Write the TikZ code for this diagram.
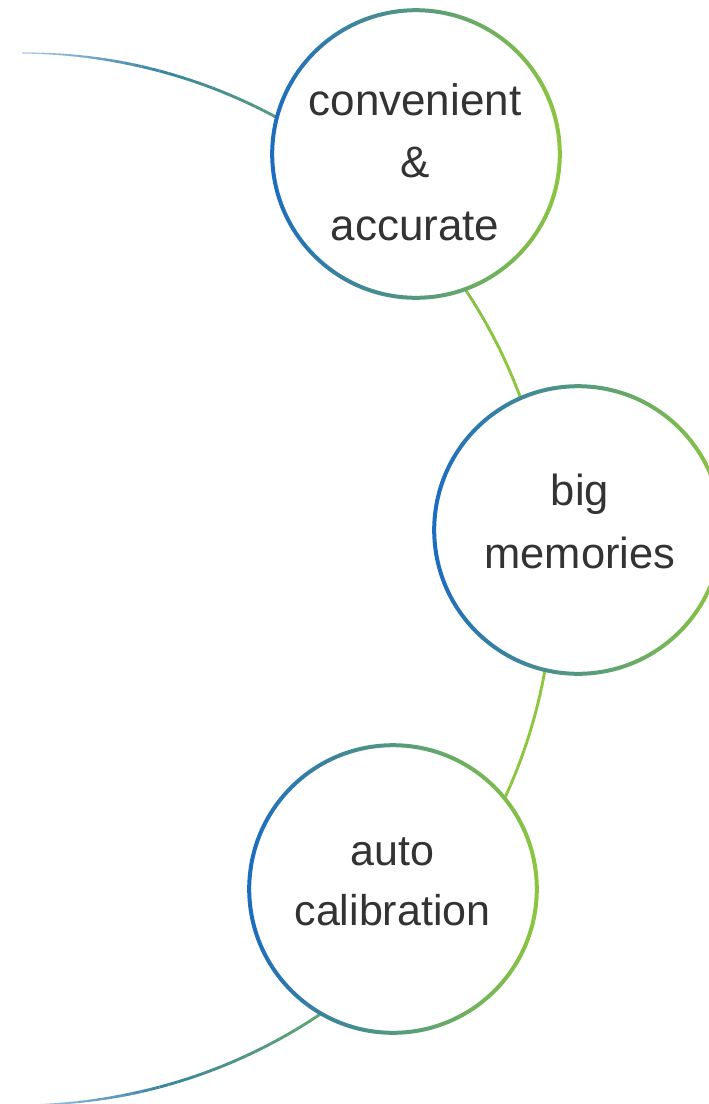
\documentclass[tikz,border=0pt]{standalone}
\usepackage{fontspec}
\setmainfont{Liberation Sans}
\definecolor{cblue}{HTML}{1C6CC0}
\definecolor{cgreen}{HTML}{8CC63F}
\definecolor{ctext}{HTML}{333333}
\tikzset{
  circ/.style={circle, fill=white, minimum size=290pt, inner sep=0pt},
  lbl/.style={text=ctext, inner sep=0pt, anchor=base},
}
\begin{document}
\begin{tikzpicture}[x=1pt,y=-1pt]
\useasboundingbox (0,0) rectangle (709,1104);
\clip (0,0) rectangle (709,1104);
% big connecting arc (gradient, drawn in small segments)
\foreach \a in {90,89,...,-89} {
  \pgfmathsetmacro\b{\a-1}
  \pgfmathsetmacro\xx{22+531*cos(\a-0.5)}
  \pgfmathsetmacro\p{max(0,min(100,(\xx-30)/470*100))}
  \pgfmathsetmacro\q{max(35,min(100,35+(\xx-22)/140*65))}
  \pgfmathsetmacro\lw{max(1.1,min(2.9,1.1+(\xx-22)/110*1.8))}
  \draw[line width=\lw pt, draw=cgreen!\p!cblue!\q!white]
    ({22+531*cos(\a)},{579-526*sin(\a)}) -- ({22+531*cos(\b)},{579-526*sin(\b)});
}
% circles
\node[circ] (c1) at (416,154) {};
\node[circ] (c2) at (578,530) {};
\node[circ] (c3) at (393,889) {};
\foreach \c in {c1,c2,c3} {
  \shade[left color=cblue, right color=cgreen, even odd rule]
    (\c.center) circle[radius=145.8pt] (\c.center) circle[radius=141.8pt];
}
% labels
\node[lbl, font=\fontsize{44pt}{62.5pt}\selectfont] (t1) at (415,115)
  {\begin{tabular}[t]{@{}c@{}}convenient\\\&\\accurate\end{tabular}};
\node[lbl, font=\fontsize{43.5pt}{63pt}\selectfont] (t2) at (580,505)
  {\begin{tabular}[t]{@{}c@{}}big\\memories\end{tabular}};
\node[lbl, font=\fontsize{43pt}{60pt}\selectfont] (t3) at (392.5,865)
  {\begin{tabular}[t]{@{}c@{}}auto\\calibration\end{tabular}};
\end{tikzpicture}
\end{document}
